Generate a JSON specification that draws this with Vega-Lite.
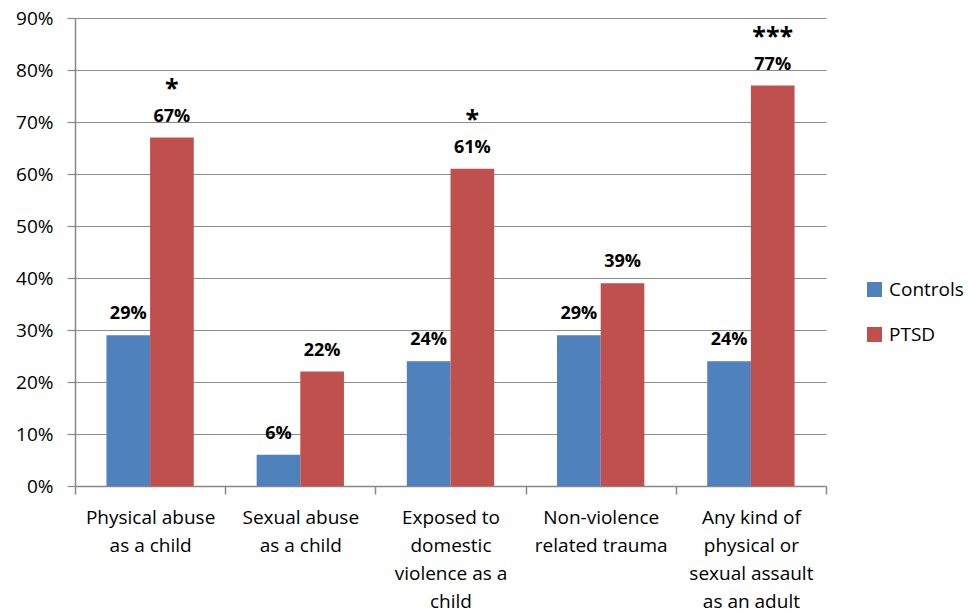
{
  "$schema": "https://vega.github.io/schema/vega-lite/v6.json",
  "width": 751,
  "height": 468,
  "autosize": {"type": "none"},
  "padding": {"left": 75, "top": 18, "right": 142, "bottom": 129},
  "background": "white",
  "data": {
    "values": [
      {"cat": "Physical abuse|as a child", "group": "Controls", "value": 29, "label": "29%", "sig": ""},
      {"cat": "Physical abuse|as a child", "group": "PTSD", "value": 67, "label": "67%", "sig": "*"},
      {"cat": "Sexual abuse|as a child", "group": "Controls", "value": 6, "label": "6%", "sig": ""},
      {"cat": "Sexual abuse|as a child", "group": "PTSD", "value": 22, "label": "22%", "sig": ""},
      {"cat": "Exposed to|domestic|violence as a|child", "group": "Controls", "value": 24, "label": "24%", "sig": ""},
      {"cat": "Exposed to|domestic|violence as a|child", "group": "PTSD", "value": 61, "label": "61%", "sig": "*"},
      {"cat": "Non-violence|related trauma", "group": "Controls", "value": 29, "label": "29%", "sig": ""},
      {"cat": "Non-violence|related trauma", "group": "PTSD", "value": 39, "label": "39%", "sig": ""},
      {"cat": "Any kind of|physical or|sexual assault|as an adult", "group": "Controls", "value": 24, "label": "24%", "sig": ""},
      {"cat": "Any kind of|physical or|sexual assault|as an adult", "group": "PTSD", "value": 77, "label": "77%", "sig": "***"}
    ]
  },
  "config": {
    "font": "Open Sans",
    "view": {"stroke": null}
  },
  "encoding": {
    "x": {
      "field": "cat",
      "type": "nominal",
      "sort": null,
      "scale": {"paddingInner": 0, "paddingOuter": 0},
      "axis": {
        "title": null,
        "labelAngle": 0,
        "labelExpr": "isString(datum.value) ? split(datum.value, '|') : ''",
        "labelFontSize": 19,
        "labelColor": "#000000",
        "labelLineHeight": 28,
        "labelBaseline": "top",
        "labelPadding": 14,
        "labelLimit": 200,
        "tickBand": "extent",
        "tickSize": 8,
        "tickColor": "#888888",
        "domainColor": "#888888",
        "domainWidth": 1.5,
        "tickWidth": 1.5
      }
    },
    "xOffset": {
      "field": "group",
      "type": "nominal",
      "scale": {"paddingOuter": 0.72, "paddingInner": 0}
    },
    "y": {
      "field": "value",
      "type": "quantitative",
      "scale": {"domain": [0, 90], "nice": false},
      "axis": {
        "title": null,
        "values": [0, 10, 20, 30, 40, 50, 60, 70, 80, 90],
        "labelExpr": "datum.value + '%'",
        "labelFontSize": 19,
        "labelColor": "#000000",
        "labelPadding": 14,
        "tickSize": 8,
        "tickColor": "#888888",
        "domainColor": "#888888",
        "domainWidth": 1.5,
        "tickWidth": 1.2,
        "gridColor": "#8c8c8c",
        "gridWidth": 1.2
      }
    }
  },
  "layer": [
    {
      "mark": {"type": "bar"},
      "encoding": {
        "color": {
          "field": "group",
          "type": "nominal",
          "scale": {"domain": ["Controls", "PTSD"], "range": ["#4F81BD", "#C0504D"]},
          "legend": {
            "title": null,
            "orient": "none",
            "legendX": 790,
            "legendY": 262,
            "symbolType": "square",
            "symbolSize": 225,
            "symbolStrokeWidth": 0,
            "labelFontSize": 19,
            "labelColor": "#000000",
            "rowPadding": 25,
            "labelOffset": 5
          }
        }
      }
    },
    {
      "mark": {"type": "text", "baseline": "middle", "dy": -21, "fontSize": 18, "fontWeight": "bold", "color": "#000000"},
      "encoding": {"text": {"field": "label"}}
    },
    {
      "transform": [{"filter": "datum.sig != ''"}],
      "mark": {"type": "text", "baseline": "middle", "dy": -49, "fontSize": 25, "fontWeight": "bold", "color": "#000000"},
      "encoding": {"text": {"field": "sig"}}
    }
  ]
}
